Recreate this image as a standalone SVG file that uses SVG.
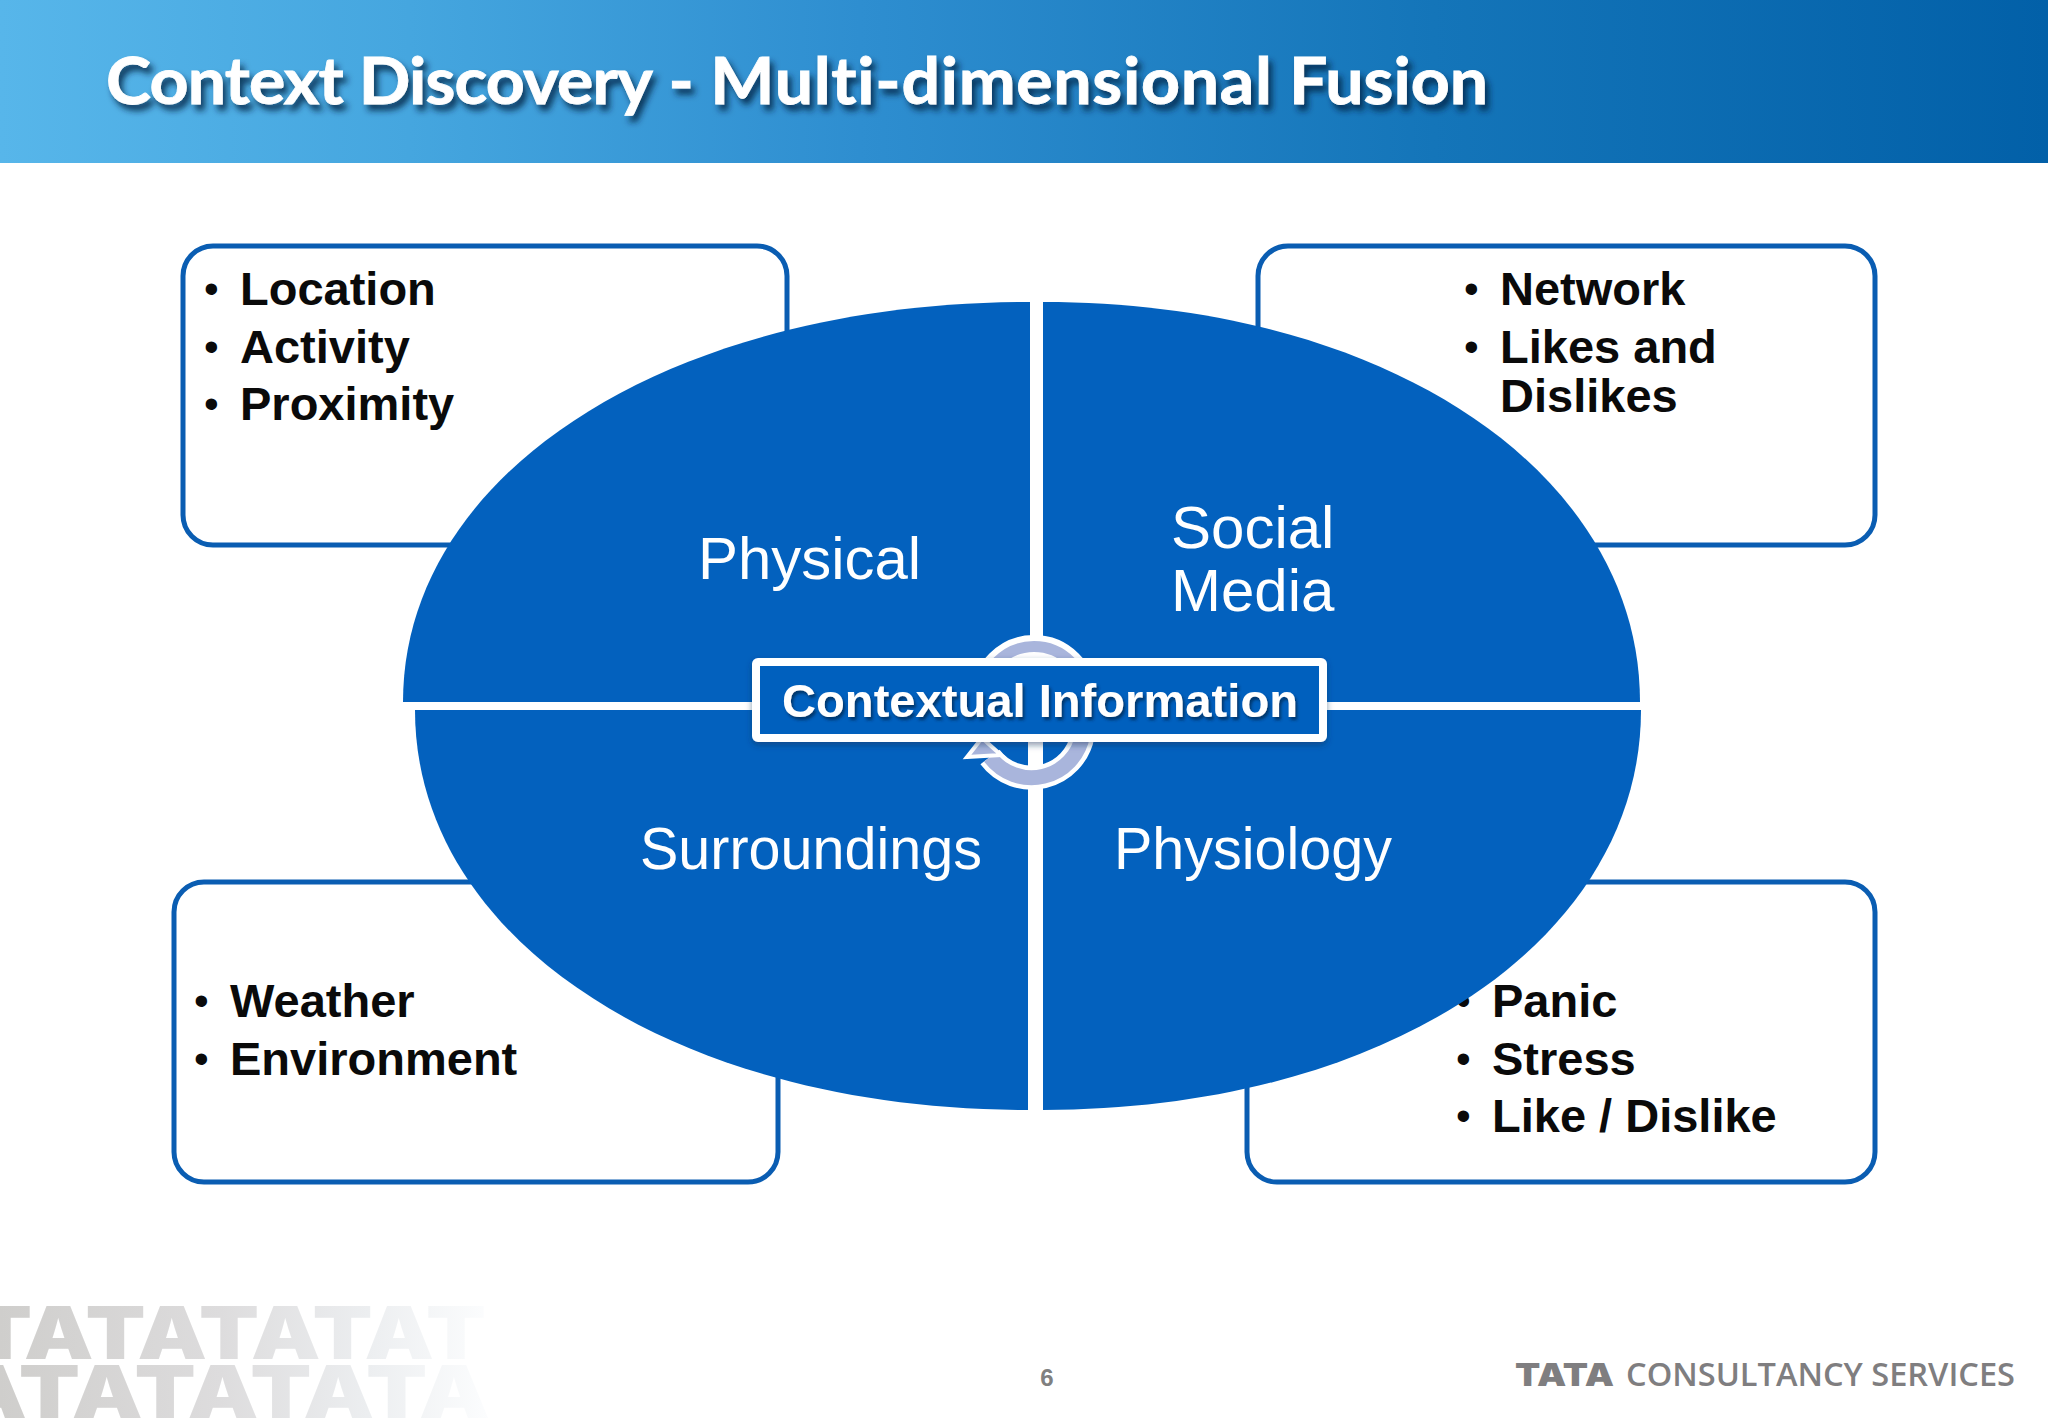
<svg xmlns="http://www.w3.org/2000/svg" width="2048" height="1418" viewBox="0 0 2048 1418">
<style>
.box{fill:#fff;stroke:#0a5db2;stroke-width:5}
.q{fill:#0361be}
.ql{font-family:"Liberation Sans",Arial,sans-serif;font-size:60px;fill:#fff}
.b{font-family:"Liberation Sans",Arial,sans-serif;font-weight:700;font-size:47px;fill:#0a0a0a}
.d{font-weight:400;font-size:42px}
</style>
<defs>
<linearGradient id="hdr" x1="0" x2="1" y1="0" y2="0"><stop offset="0" stop-color="#57b6ea"/><stop offset=".2" stop-color="#45a6df"/><stop offset=".42" stop-color="#2e8ed0"/><stop offset=".7" stop-color="#1475b9"/><stop offset="1" stop-color="#0260a8"/></linearGradient>
<linearGradient id="wm" gradientUnits="userSpaceOnUse" x1="0" x2="490" y1="0" y2="0"><stop offset="0" stop-color="#cfcecc"/><stop offset=".45" stop-color="#dddcdd"/><stop offset=".75" stop-color="#eceef0"/><stop offset="1" stop-color="#fcfdfe"/></linearGradient>
<filter id="ts" x="-5%" y="-30%" width="110%" height="170%"><feDropShadow dx="4" dy="6" stdDeviation="3" flood-color="#06223f" flood-opacity=".8"/></filter>
<filter id="cs" x="-5%" y="-20%" width="110%" height="150%"><feDropShadow dx="0" dy="3" stdDeviation="3" flood-color="#12305a" flood-opacity=".5"/></filter>
<filter id="ts2" x="-5%" y="-30%" width="110%" height="170%"><feDropShadow dx="2" dy="3" stdDeviation="1.5" flood-color="#06264f" flood-opacity=".75"/></filter>
</defs>
<rect width="2048" height="1418" fill="#fff"/>
<g id="header">
<rect width="2048" height="163" fill="url(#hdr)"/>
<text x="106" y="104" font-family="Lato,'Open Sans',sans-serif" font-weight="700" font-size="65" fill="#fff" stroke="#fff" stroke-width=".8" style="font-variant-ligatures:none" textLength="1382" lengthAdjust="spacingAndGlyphs" filter="url(#ts)"><tspan letter-spacing="-.77">Context Discovery</tspan> - <tspan letter-spacing=".7">Multi-dimensional</tspan> Fusion</text>
</g>
<g id="box-physical"><rect class="box" x="183" y="246" width="604" height="299" rx="30"/>
<text class="b"><tspan class="d" x="204" y="303">•</tspan><tspan x="240" y="305">Location</tspan><tspan class="d" x="204" y="361">•</tspan><tspan x="240" y="363">Activity</tspan><tspan class="d" x="204" y="418">•</tspan><tspan x="240" y="420">Proximity</tspan></text></g>
<g id="box-social"><rect class="box" x="1258" y="246" width="617" height="299" rx="30"/>
<text class="b"><tspan class="d" x="1464" y="303">•</tspan><tspan x="1500" y="305">Network</tspan><tspan class="d" x="1464" y="361">•</tspan><tspan x="1500" y="363">Likes and</tspan><tspan x="1500" y="412">Dislikes</tspan></text></g>
<g id="box-surroundings"><rect class="box" x="174" y="882" width="604" height="300" rx="30"/>
<text class="b"><tspan class="d" x="194" y="1015">•</tspan><tspan x="230" y="1017">Weather</tspan><tspan class="d" x="194" y="1073">•</tspan><tspan x="230" y="1075">Environment</tspan></text></g>
<g id="box-physiology"><rect class="box" x="1247" y="882" width="628" height="300" rx="30"/>
<text class="b"><tspan class="d" x="1456" y="1015">•</tspan><tspan x="1492" y="1017">Panic</tspan><tspan class="d" x="1456" y="1073">•</tspan><tspan x="1492" y="1075">Stress</tspan><tspan class="d" x="1456" y="1130">•</tspan><tspan x="1492" y="1132">Like / Dislike</tspan></text></g>
<g id="quadrant-physical"><path class="q" d="M1030 302V702H403C403 472 669.5 302 1030 302Z"/><text class="ql" x="698" y="579" textLength="223" lengthAdjust="spacingAndGlyphs">Physical</text></g>
<g id="quadrant-social"><path class="q" d="M1043 302C1386 302 1640 472 1640 702H1043Z"/><text class="ql"><tspan x="1171" y="548">Social</tspan><tspan x="1171" y="611">Media</tspan></text></g>
<g id="quadrant-surroundings"><path class="q" d="M415 710H1028V1110C676 1110 415 940 415 710Z"/><text class="ql" x="640" y="869" textLength="342" lengthAdjust="spacingAndGlyphs">Surroundings</text></g>
<g id="quadrant-physiology"><path class="q" d="M1043 710H1641C1641 940 1387 1110 1043 1110Z"/><text class="ql" x="1114" y="869" textLength="278" lengthAdjust="spacingAndGlyphs">Physiology</text></g>
<g id="cycle" fill="none">
<path d="M982.5 698A51.5 51.5 0 0 1 1085.5 698" stroke="#fff" stroke-width="23"/>
<path d="M982.5 698A51.5 51.5 0 0 1 1085.5 698" stroke="#a9b5dc" stroke-width="11"/>
<path d="M1082.7 735A52 52 0 0 1 990 757" stroke="#fff" stroke-width="24"/>
<path d="M1082.7 735A52 52 0 0 1 990 757" stroke="#a9b5dc" stroke-width="15"/>
<path d="M982 738L967 757L1001 755Z" fill="#a9b5dc" stroke="#fff" stroke-width="4"/>
</g>
<g id="center">
<rect x="756" y="662" width="567" height="76" rx="2" fill="#0361be" stroke="#fff" stroke-width="8" filter="url(#cs)"/>
<text x="782" y="717" font-family="'Liberation Sans',Arial,sans-serif" font-weight="700" font-size="46" fill="#fff" textLength="516" lengthAdjust="spacingAndGlyphs" filter="url(#ts2)">Contextual Information</text>
</g>
<g id="watermark" font-family="Inter,'Liberation Sans',sans-serif" font-weight="900" font-size="73" fill="url(#wm)">
<text x="-28" y="1359" textLength="514" lengthAdjust="spacingAndGlyphs">TATATATAT</text>
<text x="-44" y="1418" textLength="534" lengthAdjust="spacingAndGlyphs">ATATATATA</text>
</g>
<g id="footer">
<text x="1047" y="1386" text-anchor="middle" font-family="'Liberation Sans',Arial,sans-serif" font-weight="700" font-size="24" fill="#808080">6</text>
<text x="1515" y="1386" font-family="Inter,'Liberation Sans',sans-serif" font-weight="900" font-size="32" fill="#7f7e80" textLength="99" lengthAdjust="spacingAndGlyphs">TATA</text>
<text x="1626" y="1386" font-family="'Open Sans',sans-serif" font-weight="600" font-size="32" fill="#7f7e80" textLength="389" lengthAdjust="spacingAndGlyphs">CONSULTANCY SERVICES</text>
</g>
</svg>
